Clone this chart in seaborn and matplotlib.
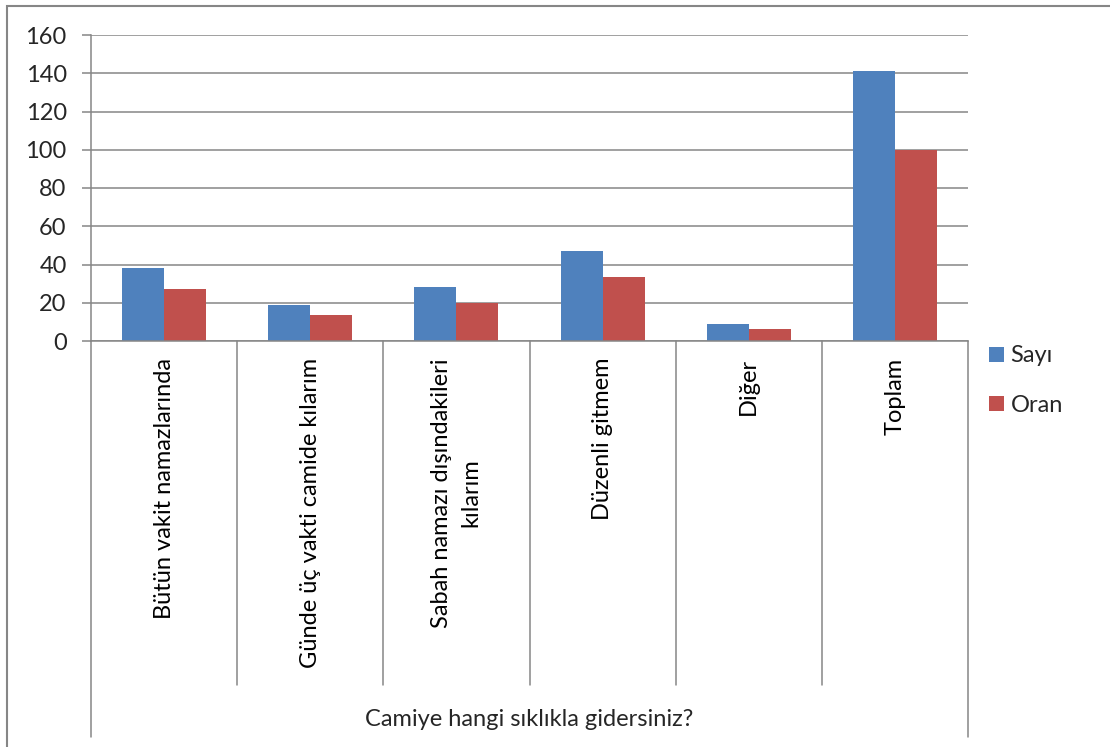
import pandas as pd
import seaborn as sns
import matplotlib.pyplot as plt
from matplotlib.patches import Rectangle, Patch
from matplotlib.lines import Line2D

# --- data ---
categories = ['Bütün vakit namazlarında', 'Günde üç vakti camide kılarım',
              'Sabah namazı dışındakileri\nkılarım', 'Düzenli gitmem', 'Diğer', 'Toplam']
sayi = [38, 19, 28, 47, 9, 141]
oran = [26.95, 13.48, 19.86, 33.33, 6.38, 100]
series = ['Sayı', 'Oran']
colors = ['#4F81BD', '#C0504D']
x_title = 'Camiye hangi sıklıkla gidersiniz?'

df = pd.DataFrame({'kategori': categories * 2,
                   'deger': sayi + oran,
                   'seri': [series[0]] * len(categories) + [series[1]] * len(categories)})

sns.set_style('white')
plt.rcParams['font.family'] = ['Lato', 'DejaVu Sans']

W, H = 1110, 747
fig = plt.figure(figsize=(W / 100, H / 100), dpi=100)
ax = fig.add_axes([91 / W, 1 - 341 / H, (968 - 91) / W, (341 - 35) / H])

sns.barplot(data=df, x='kategori', y='deger', hue='seri', palette=colors,
            width=0.575, gap=0, saturation=1, linewidth=0, ax=ax, legend=False)

grid_c = '#868686'
fs = 17

# y axis
ax.set_ylim(0, 160)
ax.set_yticks(range(0, 161, 20))
ax.yaxis.grid(True, color=grid_c, linewidth=1.1)
ax.set_axisbelow(True)
ax.tick_params(axis='y', length=6.5, width=1.1, color=grid_c, pad=11, labelsize=fs, left=True)
for s in ['top', 'right']:
    ax.spines[s].set_visible(False)
ax.spines['left'].set_color(grid_c)
ax.spines['left'].set_linewidth(1.1)
ax.spines['bottom'].set_color(grid_c)
ax.spines['bottom'].set_linewidth(1.1)

# x axis: category labels rotated, separators below the axis
ax.set_xlim(-0.5, len(categories) - 0.5)
ax.set_xticks(range(len(categories)))
ax.set_xticklabels([])
ax.tick_params(axis='x', length=0)
ax.set_xlabel('')
ax.set_ylabel('')
for i, lab in enumerate(categories):
    ax.text(i, -17 / 306, lab, transform=ax.get_xaxis_transform(), rotation=90,
            ha='center', va='top', fontsize=fs, multialignment='center',
            linespacing=1.5, color='black')

tr = ax.get_xaxis_transform()
for b in range(len(categories) + 1):
    x = b - 0.5
    y_end = -(737 - 341) / 306 if b in (0, len(categories)) else -(685 - 341) / 306
    ax.add_line(Line2D([x, x], [0, y_end], transform=tr, color=grid_c,
                       linewidth=1.1, clip_on=False))

fig.text((91 + 968) / 2 / W, 1 - 720 / H, x_title, ha='center', va='center', fontsize=fs)

# legend
handles = [Patch(facecolor=c, edgecolor='none') for c in colors]
fig.legend(handles, series, loc='upper left', bbox_to_anchor=(980 / W, 1 - 336 / H),
           frameon=False, fontsize=fs, handlelength=0.6, handleheight=0.6,
           handletextpad=0.3, labelspacing=1.2, borderaxespad=0)

# outer chart border
fig.add_artist(Rectangle((7 / W, -0.05), 1.2, 1 - 5.5 / H + 0.05, transform=fig.transFigure,
                         fill=False, edgecolor=grid_c, linewidth=1.5))

fig.savefig('out.png', dpi=100)
